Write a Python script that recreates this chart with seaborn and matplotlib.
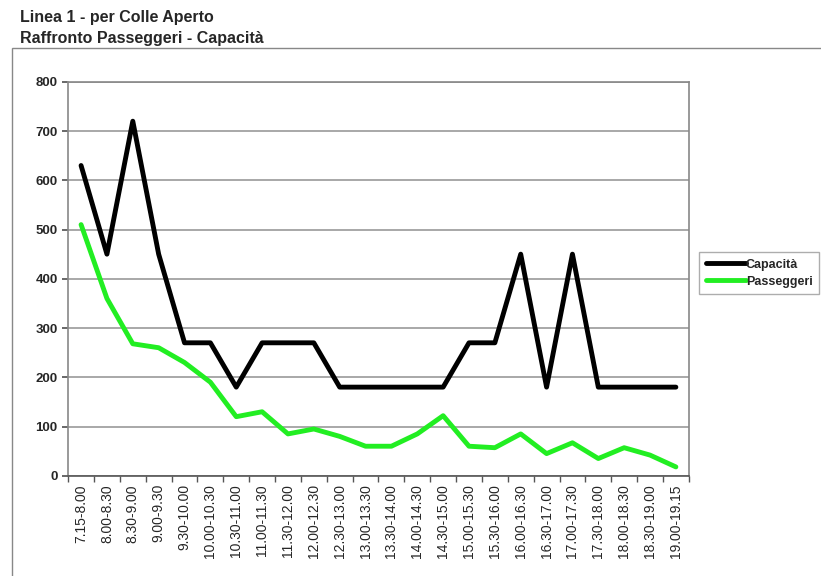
import matplotlib
matplotlib.use('Agg')
import matplotlib.pyplot as plt
import seaborn as sns
import pandas as pd
from matplotlib.lines import Line2D

fasce = ['7.15-8.00', '8.00-8.30', '8.30-9.00', '9.00-9.30', '9.30-10.00',
         '10.00-10.30', '10.30-11.00', '11.00-11.30', '11.30-12.00', '12.00-12.30',
         '12.30-13.00', '13.00-13.30', '13.30-14.00', '14.00-14.30', '14.30-15.00',
         '15.00-15.30', '15.30-16.00', '16.00-16.30', '16.30-17.00', '17.00-17.30',
         '17.30-18.00', '18.00-18.30', '18.30-19.00', '19.00-19.15']
capacita = [630, 450, 720, 450, 270, 270, 180, 270, 270, 270, 180, 180,
            180, 180, 180, 270, 270, 450, 180, 450, 180, 180, 180, 180]
passeggeri = [510, 360, 268, 260, 230, 190, 120, 130, 85, 95, 80, 60,
              60, 85, 122, 60, 57, 85, 45, 67, 35, 57, 42, 18]

df = pd.DataFrame({'Fascia': fasce * 2,
                   'Valore': capacita + passeggeri,
                   'Serie': ['Capacità'] * len(fasce) + ['Passeggeri'] * len(fasce)})
df['x'] = list(range(len(fasce))) * 2

sns.set_theme(style='white')
plt.rcParams['font.family'] = ['Liberation Sans', 'DejaVu Sans']

fig = plt.figure(figsize=(8.21, 5.76), dpi=100)
ax = fig.add_axes([0.083, 0.174, 0.756, 0.684])

sns.lineplot(data=df, x='x', y='Valore', hue='Serie',
             palette={'Capacità': 'black', 'Passeggeri': '#22ee22'},
             linewidth=3.5, ax=ax, legend=False)

ax.set_xlim(-0.5, len(fasce) - 0.5)
ax.set_ylim(0, 800)
ax.set_yticks(range(0, 801, 100))
ax.set_yticklabels([str(v) for v in range(0, 801, 100)], fontsize=9.5, fontweight='bold')
ax.set_xticks(range(len(fasce)))
ax.set_xticklabels(fasce, rotation=90, fontsize=10)
ax.set_xticks([i - 0.5 for i in range(len(fasce) + 1)], minor=True)
ax.tick_params(axis='x', which='major', length=0, pad=6)
ax.tick_params(axis='x', which='minor', length=4, color='#555555', direction='out', bottom=True)
ax.tick_params(axis='y', length=4, color='#555555', direction='out', left=True)
ax.set_xlabel('')
ax.set_ylabel('')
ax.yaxis.grid(True, color='#999999', linewidth=1.2)
for s in ax.spines.values():
    s.set_color('#888888')
    s.set_linewidth(1.2)
ax.spines['bottom'].set_color('#555555')

# legend
handles = [Line2D([], [], color='black', linewidth=3.5),
           Line2D([], [], color='#22ee22', linewidth=3.5)]
leg = fig.legend(handles, ['Capacità', 'Passeggeri'], loc='upper left',
                 bbox_to_anchor=(0.852, 0.562), frameon=True, fancybox=False,
                 prop={'weight': 'bold', 'size': 9}, handlelength=3.2,
                 handletextpad=0.0, borderpad=0.5, labelspacing=0.4,
                 borderaxespad=0.0)
leg.get_frame().set_edgecolor('#999999')
leg.get_frame().set_linewidth(1.0)

# outer chart frame
frame = plt.Rectangle((0.015, -0.01), 1.0, 0.927, transform=fig.transFigure,
                      fill=False, edgecolor='#888888', linewidth=1.0)
fig.patches.append(frame)

fig.text(0.024, 0.982, 'Linea 1 - per Colle Aperto', fontsize=11.5, fontweight='bold', va='top')
fig.text(0.024, 0.947, 'Raffronto Passeggeri - Capacità', fontsize=11.5, fontweight='bold', va='top')

fig.savefig('out.png', dpi=100)
